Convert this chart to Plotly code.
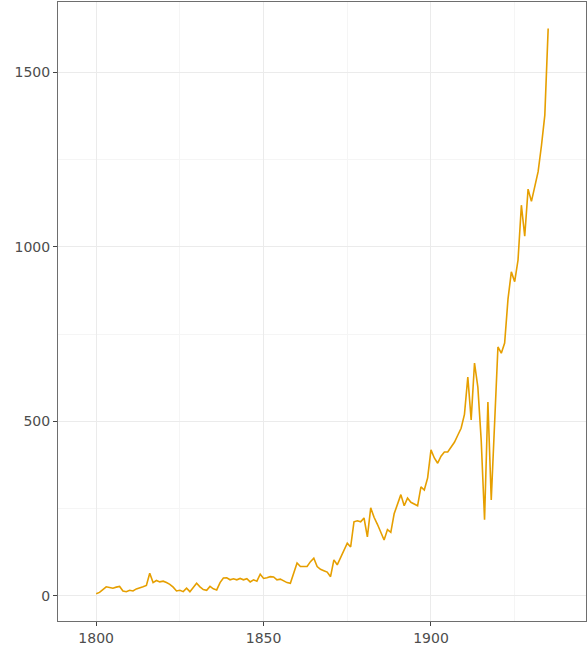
import plotly.graph_objects as go

years = list(range(1800, 1936))

values = [
    # 1800-1809
    6, 10, 18, 26, 24, 22, 25, 27, 14, 12,
    # 1810-1819
    16, 14, 20, 22, 26, 30, 65, 38, 44, 40,
    # 1820-1829
    42, 38, 33, 25, 14, 16, 12, 22, 12, 24,
    # 1830-1839
    36, 26, 18, 16, 27, 20, 17, 38, 51, 52,
    # 1840-1849
    46, 49, 46, 50, 46, 49, 40, 46, 42, 62,
    # 1850-1859
    50, 52, 55, 54, 46, 48, 42, 38, 36, 62,
    # 1860-1869
    94, 84, 85, 84, 98, 108, 84, 76, 72, 68,
    # 1870-1879
    55, 103, 89, 110, 132, 151, 140, 212, 215, 212,
    # 1880-1889
    223, 169, 252, 225, 205, 180, 160, 190, 182, 235,
    # 1890-1899
    262, 290, 258, 280, 268, 262, 258, 312, 303, 338,
    # 1900-1909
    418, 395, 380, 400, 412, 412, 425, 440, 460, 480,
    # 1910-1919
    520, 627, 504, 667, 598, 446, 218, 555, 275, 495,
    # 1920-1929
    713, 695, 724, 850, 928, 900, 962, 1119, 1030, 1165,
    # 1930-1935
    1130, 1172, 1215, 1290, 1377, 1625,
]

x_ticks = [1800, 1850, 1900]
y_ticks = [0, 500, 1000, 1500]

line_color = "#E69F00"
tick_font = dict(family="DejaVu Sans", size=14, color="#4D4D4D")

fig = go.Figure()
fig.add_trace(go.Scatter(
    x=years, y=values, mode="lines",
    line=dict(color=line_color, width=1.6),
    showlegend=False,
))

axis_common = dict(
    showgrid=True, gridcolor="#EBEBEB", gridwidth=1.2,
    zeroline=False,
    showline=True, linecolor="#6E6E6E", linewidth=1, mirror=True,
    ticks="outside", ticklen=4, tickwidth=1, tickcolor="#444444",
    tickfont=tick_font,
)

fig.update_xaxes(
    range=[1788.6, 1946.3], tickvals=x_ticks, ticktext=[str(v) for v in x_ticks],
    minor=dict(tickvals=[1825, 1875, 1925], showgrid=True, gridcolor="#F5F5F5", gridwidth=0.8, ticks=""),
    **axis_common,
)
fig.update_yaxes(
    range=[-72, 1701], tickvals=y_ticks, ticktext=[str(v) for v in y_ticks],
    minor=dict(tickvals=[250, 750, 1250], showgrid=True, gridcolor="#F5F5F5", gridwidth=0.8, ticks=""),
    **axis_common,
)

fig.update_layout(
    width=587, height=650,
    margin=dict(l=58, r=1, t=2, b=29),
    paper_bgcolor="white", plot_bgcolor="white",
)

fig.write_html(
    "out.html",
    config={"displayModeBar": False},
    post_script="document.body.style.margin='0';document.body.style.overflow='hidden';",
)
